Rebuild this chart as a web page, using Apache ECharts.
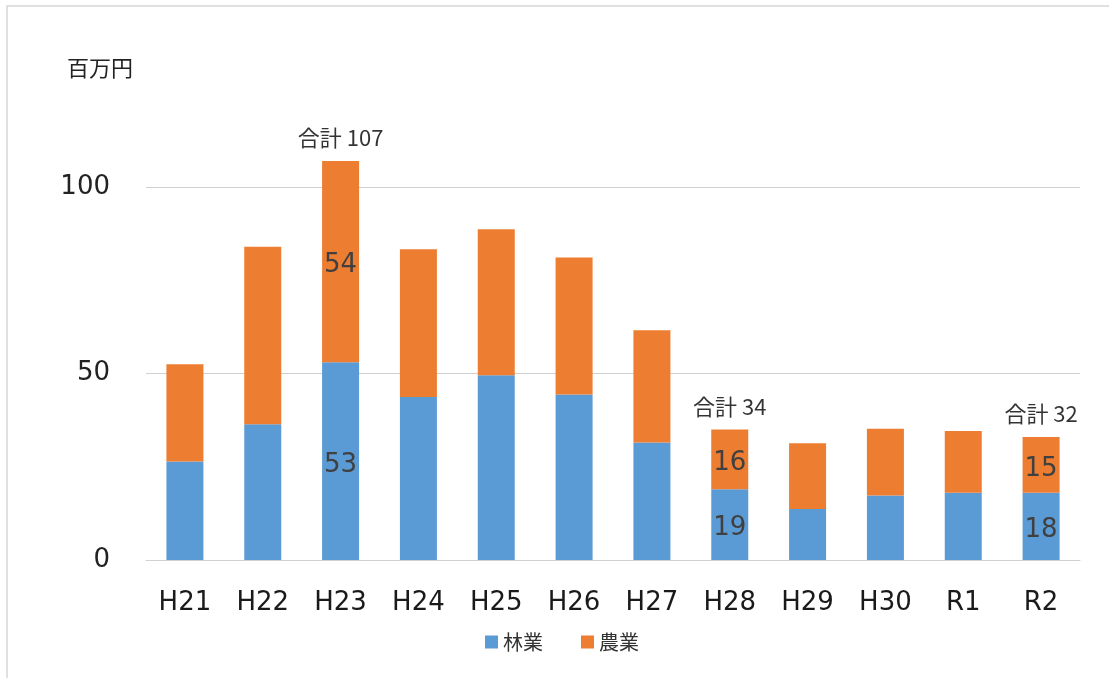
<!DOCTYPE html>
<html>
<head>
<meta charset="utf-8">
<style>
  html, body { margin: 0; padding: 0; background: #ffffff; }
  #chart { width: 1109px; height: 678px; }
</style>
<script src="https://cdn.jsdelivr.net/npm/echarts@6/dist/echarts.min.js"></script>
</head>
<body>
<div id="chart"></div>
<script>
// 年度
const categories = ['H21', 'H22', 'H23', 'H24', 'H25', 'H26', 'H27', 'H28', 'H29', 'H30', 'R1', 'R2'];
// 林業（百万円）
const forestry = [26.4, 36.4, 53, 43.7, 49.5, 44.4, 31.5, 19, 13.7, 17.3, 18.0, 18];
// 農業（百万円）
const agriculture = [26.1, 47.6, 54, 39.6, 39.2, 36.7, 30.1, 16, 17.6, 17.9, 16.6, 15];
// 合計の表示（表示する年度のみ）
const totalLabels = [null, null, 107, null, null, null, null, 34, null, null, null, 32];
// 内訳の数値を表示する年度
const labelledYears = ['H23', 'H28', 'R2'];
// 縦軸の目盛
const yTicks = [0, 50, 100];

const FONT_LATIN = 'DejaVu Sans';
const FONT_JP = '"Noto Sans CJK JP"';

function segmentData(values) {
  return values.map((v, i) => ({
    value: v,
    label: { show: labelledYears.includes(categories[i]) }
  }));
}

const stackTops = forestry.map((v, i) => v + agriculture[i]);

const chart = echarts.init(document.getElementById('chart'), null, { renderer: 'canvas' });

chart.setOption({
  backgroundColor: '#ffffff',
  animation: false,
  color: ['#5B9BD5', '#ED7D31'],
  graphic: [
    {
      type: 'polyline',
      shape: { points: [[7, 678], [7, 6], [1109, 6]] },
      style: { stroke: '#d6d6d6', lineWidth: 1.5, fill: null },
      silent: true
    },
    {
      type: 'text',
      left: 67,
      top: 57,
      style: { text: '百万円', fontFamily: FONT_JP, fontSize: 22, fill: '#222' }
    }
  ],
  grid: { left: 146, right: 29, top: 187, bottom: 118 },
  legend: {
    data: ['林業', '農業'],
    left: 480,
    top: 627,
    itemWidth: 13,
    itemHeight: 13,
    itemGap: 38,
    icon: 'rect',
    textStyle: { fontFamily: FONT_JP, fontSize: 20, color: '#333' }
  },
  xAxis: {
    type: 'category',
    data: categories,
    axisLine: { show: true, lineStyle: { color: '#d0d0d0', width: 1 } },
    axisTick: { show: false },
    axisLabel: {
      margin: 30,
      fontFamily: FONT_LATIN,
      fontSize: 26,
      color: '#1a1a1a',
      interval: 0
    }
  },
  yAxis: {
    type: 'value',
    min: yTicks[0],
    max: yTicks[yTicks.length - 1],
    interval: yTicks[1] - yTicks[0],
    axisLine: { show: false },
    axisTick: { show: false },
    axisLabel: {
      margin: 36,
      fontFamily: FONT_LATIN,
      fontSize: 26,
      color: '#222'
    },
    splitLine: { lineStyle: { color: '#d0d0d0', width: 1 } }
  },
  series: [
    {
      name: '林業',
      type: 'bar',
      stack: 'total',
      barWidth: 37,
      clip: false,
      data: segmentData(forestry),
      label: {
        position: 'inside',
        offset: [0, 4],
        fontFamily: FONT_LATIN,
        fontSize: 26,
        color: '#404040',
        formatter: p => String(Math.round(p.value))
      }
    },
    {
      name: '農業',
      type: 'bar',
      stack: 'total',
      barWidth: 37,
      clip: false,
      data: segmentData(agriculture),
      label: {
        position: 'inside',
        offset: [0, 4],
        fontFamily: FONT_LATIN,
        fontSize: 26,
        color: '#404040',
        formatter: p => String(Math.round(p.value))
      }
    },
    {
      name: '合計',
      type: 'scatter',
      symbolSize: 0,
      silent: true,
      clip: false,
      data: stackTops.map((v, i) => ({
        value: v,
        label: { show: totalLabels[i] !== null }
      })),
      label: {
        position: 'top',
        distance: 12,
        fontFamily: FONT_JP,
        fontSize: 22,
        color: '#000',
        formatter: p => '合計 ' + totalLabels[p.dataIndex]
      }
    }
  ]
});
</script>
</body>
</html>
